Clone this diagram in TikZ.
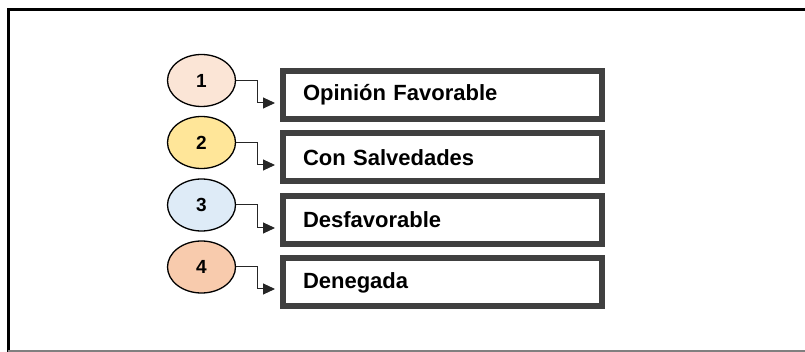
\documentclass[tikz,border=0pt]{standalone}
\usepackage{fontspec}
\setmainfont{Liberation Sans}
\usetikzlibrary{shapes.geometric,arrows.meta}
\definecolor{boxgray}{HTML}{404040}
\definecolor{c1}{HTML}{FBE5D6}
\definecolor{c2}{HTML}{FFE699}
\definecolor{c3}{HTML}{DEEBF7}
\definecolor{c4}{HTML}{F8CBAD}
\tikzset{
  numoval/.style={ellipse, draw=black, line width=1.3pt, minimum width=68pt, minimum height=52pt, inner sep=0pt, font=\fontsize{19}{21}\selectfont\bfseries},
  labelbox/.style={rectangle, draw=boxgray, line width=6pt, minimum width=319pt, minimum height=48pt, inner xsep=20pt, text width=279pt, align=left, font=\fontsize{22}{26}\selectfont\bfseries},
  conn/.style={draw=black!85, line width=1pt, -{Triangle[length=12pt,width=11pt]}}
}
\begin{document}
\begin{tikzpicture}[x=1pt,y=-1pt]
\useasboundingbox (0,0) rectangle (805,352);
% outer frame
\draw[line width=3pt, black] (8,352) -- (8,9.5) -- (805,9.5);
\draw[line width=1.5pt, black!50] (8,351.2) -- (805,351.2);
% ovals
\node[numoval, fill=c1] (e1) at (201.5,80.5) {1};
\node[numoval, fill=c2] (e2) at (201.5,142.5) {2};
\node[numoval, fill=c3] (e3) at (201.5,205) {3};
\node[numoval, fill=c4] (e4) at (201.5,267) {4};
% boxes
\node[labelbox] (b1) at (442.5,95) {Opinión Favorable};
\node[labelbox] (b2) at (442.5,157.5) {Con Salvedades};
\node[labelbox] (b3) at (442.5,220) {Desfavorable};
\node[labelbox] (b4) at (442.5,282.5) {Denegada};
% arrow targets
\coordinate (t1) at (275,103);
\coordinate (t2) at (275,165);
\coordinate (t3) at (275,228);
\coordinate (t4) at (275,289);
\draw[conn] (e1.east) -- ++(21,0) |- (t1);
\draw[conn] (e2.east) -- ++(21,0) |- (t2);
\draw[conn] (e3.east) -- ++(21,0) |- (t3);
\draw[conn] (e4.east) -- ++(21,0) |- (t4);
\end{tikzpicture}
\end{document}
